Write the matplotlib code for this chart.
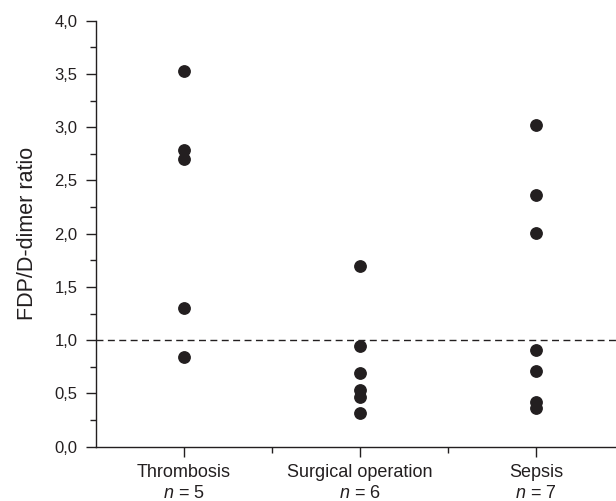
import matplotlib
matplotlib.use('Agg')
import matplotlib.pyplot as plt
from matplotlib.ticker import MultipleLocator, FuncFormatter

# Dados
grupos = ['Thrombosis', 'Surgical operation', 'Sepsis']
n_grupos = [5, 6, 7]
thrombosis = [3.53, 2.79, 2.70, 1.30, 0.84]
surgical = [1.70, 0.95, 0.69, 0.53, 0.47, 0.32]
sepsis = [3.02, 2.36, 2.01, 0.91, 0.71, 0.42, 0.36]
valores = [thrombosis, surgical, sepsis]

plt.rcParams['font.family'] = ['Liberation Sans', 'DejaVu Sans']
plt.rcParams['mathtext.fontset'] = 'custom'
plt.rcParams['mathtext.it'] = 'Liberation Sans:italic'
plt.rcParams['mathtext.rm'] = 'Liberation Sans'

cor = '#231f20'

fig = plt.figure(figsize=(6.16, 5.01), dpi=100)
ax = fig.add_axes([96 / 616, 1 - 446.7 / 501, (624 - 96) / 616, (446.7 - 20.7) / 501])

for i, vals in enumerate(valores):
    ax.plot([i + 1] * len(vals), vals, 'o', color=cor, markersize=8.2, clip_on=False)

# linha de referencia
ax.axhline(1.0, color=cor, linestyle=(0, (5, 3.2)), linewidth=1.0)

ax.set_xlim(0.5, 3.5)
ax.set_ylim(0, 4)

ax.spines['top'].set_visible(False)
ax.spines['right'].set_visible(False)
for s in ['left', 'bottom']:
    ax.spines[s].set_color(cor)
    ax.spines[s].set_linewidth(1.0)

ax.yaxis.set_major_locator(MultipleLocator(0.5))
ax.yaxis.set_minor_locator(MultipleLocator(0.25))
ax.yaxis.set_major_formatter(FuncFormatter(lambda v, p: f'{v:.1f}'.replace('.', ',')))

ax.set_xticks([1, 2, 3])
ax.set_xticks([1.5, 2.5], minor=True)
rotulos = [f'{g}\n' + r'$\it{n}$' + f' = {n}' for g, n in zip(grupos, n_grupos)]
ax.set_xticklabels(rotulos, fontsize=13, color=cor, linespacing=1.3)

ax.tick_params(axis='both', which='major', direction='out', length=7.2, width=1.0, color=cor)
ax.tick_params(axis='both', which='minor', direction='out', length=4, width=1.0, color=cor)
ax.tick_params(axis='y', labelsize=12, labelcolor=cor, pad=6)
ax.tick_params(axis='x', pad=5)

ax.set_ylabel('FDP/D-dimer ratio', fontsize=15.5, color=cor, labelpad=12)

plt.savefig('out.png', dpi=100)
